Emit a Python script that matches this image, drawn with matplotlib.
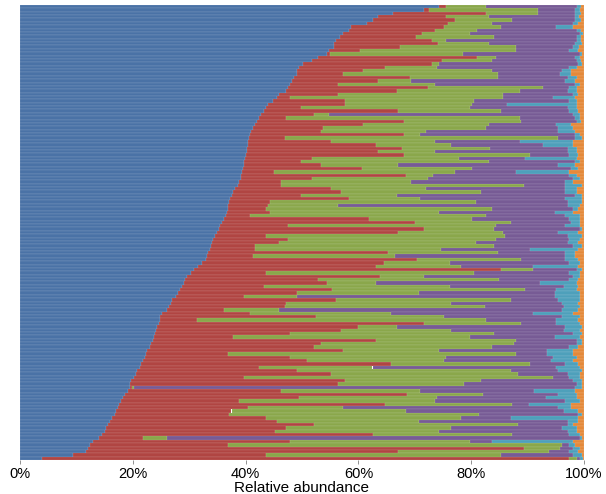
#!/usr/bin/env python3
"""
Stacked relative-abundance bars, one row per sample, sorted by the first taxon.
"""

import matplotlib

matplotlib.use("Agg")

import matplotlib.pyplot as plt
import numpy as np

# cumulative right edge (percent) of each taxon, one value per sample row, top to bottom
BLUE_END = [
    74.3, 71.7, 66.1, 63.5, 62.5, 61.6, 58.6, 58.3, 57.3, 56.7, 56.0, 55.7, 55.7, 54.7, 54.4, 52.8, 51.8, 50.2,
    49.5, 49.2, 49.2, 48.5, 48.2, 47.9, 47.6, 47.2, 45.9, 45.6, 44.9, 44.0, 43.6, 43.3, 42.7, 42.3, 42.0,
    41.7, 41.4, 41.0, 40.7, 40.6, 40.5, 40.4, 40.3, 40.2, 40.1, 39.9, 39.8, 39.7, 39.5, 39.4, 39.2, 39.1,
    38.9, 38.6, 38.1, 37.8, 37.5, 37.3, 37.1, 36.9, 36.8, 36.7, 36.5, 36.2, 35.8, 35.5, 35.2, 34.9, 34.5,
    34.2, 34.1, 33.9, 33.6, 33.4, 33.2, 32.9, 32.2, 31.6, 30.9, 30.3, 29.6, 29.3, 29.0, 28.7, 28.3, 28.1,
    27.7, 27.0, 26.7, 26.4, 26.1, 25.1, 24.9, 24.8, 24.6, 24.3, 24.1, 23.9, 23.7, 23.5, 23.3, 23.0,
    22.6, 22.3, 22.1, 21.8, 21.5, 21.2, 20.8, 20.5, 20.2, 19.7, 19.5, 19.5, 19.2, 18.6, 18.2, 17.9, 17.6,
    17.3, 17.1, 16.9, 16.3, 15.9, 15.6, 15.3, 15.0, 14.5, 14.0, 13.0, 12.4, 12.1, 11.7, 9.4, 3.9,
]
RED_END = [
    75.6, 72.6, 82.7, 75.6, 77.2, 75.9, 75.2, 73.6, 71.3, 70.3, 73.0, 74.1, 67.4, 60.3, 55.0, 81.1, 74.9, 73.0,
    64.8, 60.9, 57.3, 69.1, 63.5, 56.4, 72.3, 66.8, 56.4, 47.9, 57.7, 57.7, 49.8, 67.1, 52.1, 47.2, 68.1,
    60.9, 53.7, 53.4, 68.1, 46.9, 55.1, 63.2, 67.8, 63.5, 68.1, 51.8, 49.8, 53.4, 60.6, 45.0, 68.4, 51.8,
    46.3, 46.3, 55.1, 57.0, 49.8, 58.3, 44.3, 44.0, 43.6, 44.3, 40.7, 61.9, 70.0, 47.6, 71.7, 67.1, 43.6,
    47.6, 45.9, 41.7, 41.7, 65.2, 41.4, 70.4, 64.5, 63.2, 85.3, 43.6, 63.8, 52.8, 54.4, 43.3, 55.4, 49.2,
    39.7, 56.0, 47.2, 46.9, 36.2, 40.7, 52.4, 31.3, 71.7, 59.9, 57.0, 47.9, 37.8, 63.2, 53.4, 52.1,
    57.3, 36.8, 47.9, 50.8, 65.8, 42.3, 49.2, 55.1, 39.7, 57.7, 56.4, 19.9, 46.3, 68.7, 49.5, 38.8, 64.8,
    40.4, 37.5, 37.1, 43.6, 45.6, 52.1, 47.2, 45.3, 62.5, 21.8, 47.9, 36.8, 89.3, 67.1, 43.6, 97.4,
]
GREEN_END = [
    82.7, 91.9, 91.9, 83.1, 87.3, 83.7, 85.2, 81.0, 79.8, 84.0, 75.6, 83.1, 87.9, 87.9, 78.5, 84.4, 83.7, 74.3,
    73.9, 83.7, 84.7, 84.7, 69.4, 73.6, 92.8, 88.6, 85.7, 85.7, 80.5, 80.1, 79.8, 85.3, 54.7, 88.6, 88.9,
    83.1, 82.7, 72.0, 71.0, 95.4, 73.6, 76.5, 83.4, 73.6, 90.5, 77.9, 83.1, 67.1, 80.1, 77.2, 73.3, 72.3,
    69.4, 89.3, 72.0, 81.8, 66.8, 71.0, 80.8, 56.4, 83.7, 74.3, 82.7, 80.1, 87.0, 84.4, 84.0, 85.7, 86.0,
    84.4, 80.8, 84.0, 74.6, 84.7, 66.5, 88.9, 76.2, 78.2, 90.9, 80.5, 71.7, 85.0, 63.2, 76.2, 89.6, 70.7,
    49.2, 87.0, 76.5, 82.4, 45.9, 65.8, 75.2, 82.7, 88.9, 66.8, 76.5, 84.0, 79.8, 87.9, 87.6, 83.7,
    74.3, 87.9, 75.6, 75.2, 90.5, 62.5, 87.0, 88.3, 94.5, 81.8, 78.8, 20.2, 71.0, 82.1, 73.9, 73.6, 87.3,
    57.3, 68.4, 81.4, 78.2, 70.7, 88.3, 76.5, 74.3, 87.3, 26.1, 79.8, 96.1, 95.8, 93.8, 85.3, 98.7,
]
PURPLE_END = [
    98.7, 98.4, 98.4, 98.4, 98.4, 98.0, 95.1, 98.7, 99.3, 98.7, 98.7, 98.4, 98.0, 97.4, 99.3, 98.4, 98.7, 99.0,
    97.4, 96.1, 95.8, 97.1, 96.7, 98.4, 97.4, 97.1, 98.0, 94.5, 97.4, 86.3, 97.1, 97.4, 98.0, 98.4, 98.7,
    95.1, 95.4, 95.4, 98.4, 98.4, 88.6, 92.8, 97.1, 97.1, 97.4, 89.6, 98.4, 95.4, 97.7, 88.0, 97.4, 98.0,
    96.7, 96.7, 96.7, 96.7, 98.4, 96.7, 97.1, 97.1, 98.0, 94.8, 96.7, 97.4, 97.7, 96.7, 99.3, 95.4, 97.1,
    97.4, 97.1, 98.0, 90.5, 96.7, 96.7, 96.7, 97.4, 90.9, 98.7, 97.4, 98.0, 97.4, 92.2, 96.4, 95.1, 94.8,
    94.8, 95.4, 96.1, 96.4, 96.1, 90.9, 96.1, 95.1, 95.1, 96.7, 96.4, 98.0, 94.8, 98.7, 98.7, 97.4,
    93.5, 93.5, 94.5, 94.1, 96.7, 95.1, 95.4, 97.1, 97.4, 98.0, 98.7, 98.4, 91.2, 95.4, 93.2, 96.7, 90.2,
    95.4, 96.4, 99.0, 87.0, 97.1, 97.1, 96.1, 97.1, 97.4, 99.3, 83.7, 97.4, 98.0, 97.4, 98.0, 99.3,
]
CYAN_END = [
    99.4, 99.3, 99.4, 99.2, 99.4, 99.0, 98.0, 99.4, 99.8, 99.4, 99.5, 99.6, 99.2, 99.0, 99.7, 99.3, 99.4, 99.6,
    98.7, 97.7, 97.7, 98.7, 98.4, 99.3, 98.7, 98.7, 99.0, 98.4, 98.7, 98.7, 98.7, 99.0, 99.3, 99.3, 99.5,
    97.7, 98.0, 98.4, 99.3, 99.7, 98.0, 98.0, 98.7, 98.7, 99.0, 98.7, 99.3, 98.4, 99.0, 97.4, 98.7, 99.3,
    98.0, 99.7, 98.7, 98.7, 99.7, 99.7, 99.7, 99.3, 99.0, 98.0, 99.3, 99.3, 99.3, 99.3, 99.7, 99.0, 99.7,
    99.3, 99.0, 99.7, 99.0, 98.4, 98.4, 99.0, 99.3, 99.0, 99.7, 99.3, 99.3, 99.0, 98.7, 99.0, 98.7, 99.3,
    99.3, 99.3, 99.0, 99.3, 99.0, 98.0, 99.3, 99.0, 99.3, 99.7, 99.3, 99.7, 99.3, 99.7, 99.7, 99.0,
    98.0, 98.0, 98.7, 98.0, 99.0, 99.3, 99.7, 99.3, 99.3, 99.7, 99.7, 99.7, 98.4, 98.7, 98.7, 99.3, 97.7,
    97.7, 99.0, 99.7, 99.0, 99.0, 98.0, 98.7, 98.7, 99.3, 99.7, 98.0, 98.4, 99.3, 99.0, 99.7, 99.8,
]

TAXON_COLORS = ["#4a72a6", "#b04542", "#8aa74b", "#775b95", "#4ea0bb", "#e4893a"]
X_TICKS = [0, 20, 40, 60, 80, 100]


def main() -> None:
    n_rows = len(BLUE_END)
    edges = np.column_stack(
        [np.zeros(n_rows), BLUE_END, RED_END, GREEN_END, PURPLE_END, CYAN_END, np.full(n_rows, 100.0)]
    )
    widths = np.diff(edges, axis=1)

    plt.rcParams["font.family"] = ["Liberation Sans", "DejaVu Sans"]
    fig = plt.figure(figsize=(6.06, 4.94), dpi=100)
    ax = fig.add_axes([20 / 606, 34 / 494, 564 / 606, 455 / 494])

    rows = np.arange(n_rows)
    for k, color in enumerate(TAXON_COLORS):
        ax.barh(
            rows,
            widths[:, k],
            left=edges[:, k],
            height=1.0,
            color=color,
            edgecolor=(1, 1, 1, 0.3),
            linewidth=0.25,
        )

    ax.set_xlim(0, 100)
    ax.set_ylim(n_rows - 0.5, -0.5)
    ax.set_yticks([])
    ax.set_xticks(X_TICKS)
    ax.set_xticklabels([f"{t}%" for t in X_TICKS], fontsize=10.5)
    ax.tick_params(axis="x", length=3, width=0.6, color="0.5", pad=2)
    for spine in ax.spines.values():
        spine.set_visible(False)
    ax.set_xlabel("Relative abundance", fontsize=11, labelpad=0)

    fig.savefig("out.png", dpi=100)
    plt.close(fig)


if __name__ == "__main__":
    main()
